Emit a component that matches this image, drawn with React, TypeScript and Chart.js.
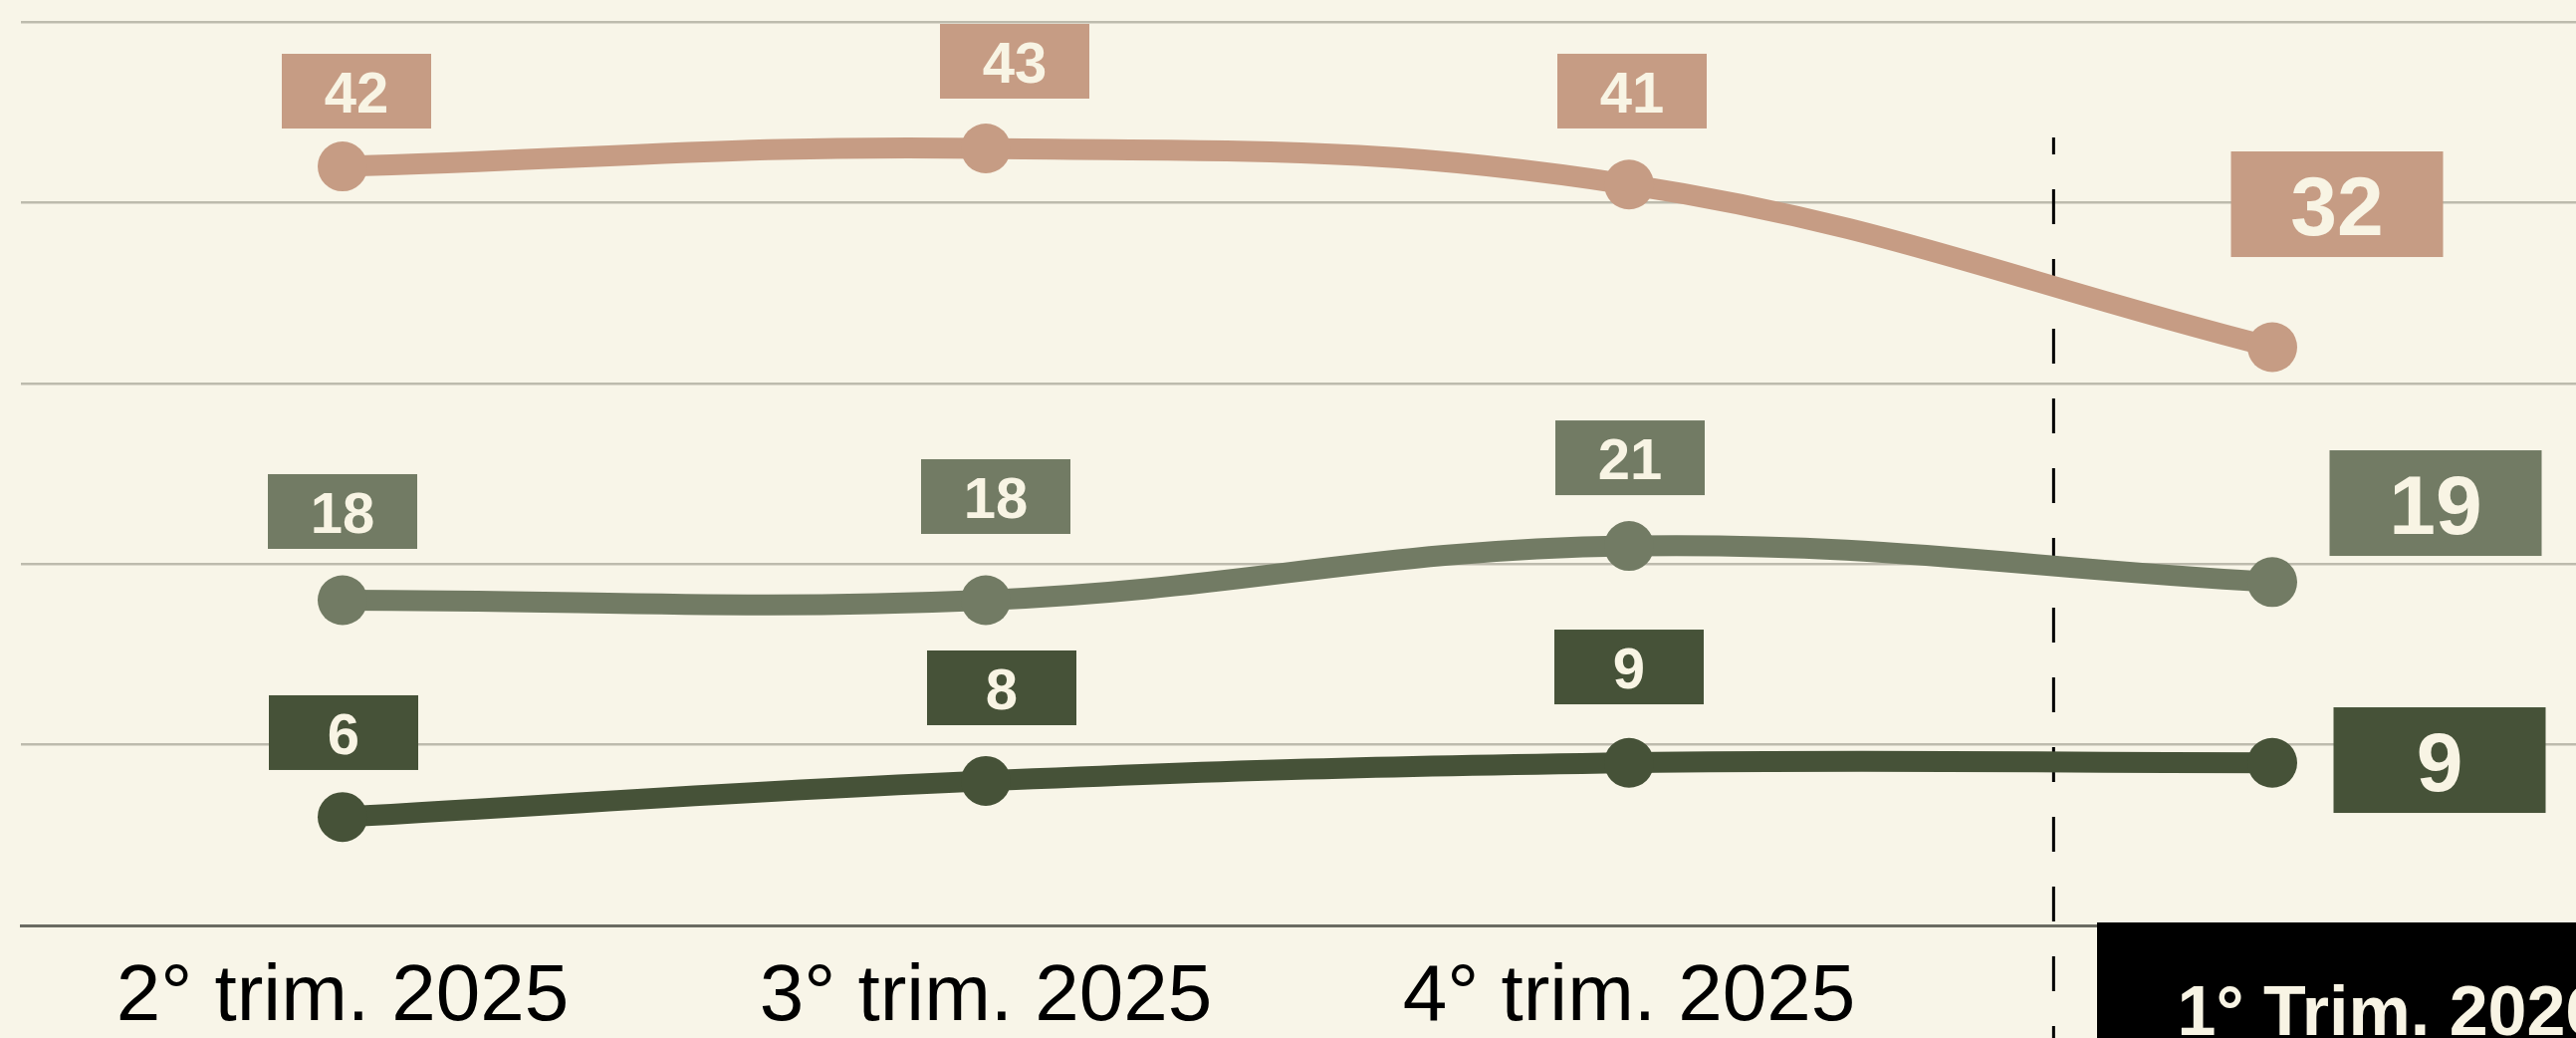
import React, { useEffect, useRef } from "react";
import { Chart, registerables } from "chart.js";

Chart.register(...registerables);

// ---- data ----
const categories = ["2° trim. 2025", "3° trim. 2025", "4° trim. 2025", "1° Trim. 2026"];
const seriesTop = [42, 43, 41, 32];
const seriesMid = [18, 18, 21, 19];
const seriesLow = [6, 8, 9, 9];
const yTicks = [0, 10, 20, 30, 40, 50];

// ---- styles ----
const BG = "#F8F5E8";
const CREAM = "#F8F4E4";
const COLORS = ["#C69C84", "#727B64", "#465238"];
const GRID = "#BDBBAD";
const AXIS = "#6B6B62";
const FONT = '"Liberation Sans", Arial, Helvetica, sans-serif';

// label box nudges (px, relative to each point) per series
const LABEL_NUDGES = [
  [[14, -75.6], [29, -87.5], [3, -93.8], [65, -143.5]],
  [[0, -89], [10, -104], [1, -88.5], [164, -79.3]],
  [[1, -84.7], [16, -93.4], [0, -96.2], [168, -2.7]],
];
const DIVIDER_AT = 2.66; // category index position of dashed separator
const LAST_TICK_SHIFT = 119;

const W = 2800;
const H = 1075;

const valueBoxes = {
  id: "valueBoxes",
  afterDatasetsDraw(chart: any) {
    const ctx = chart.ctx;
    ctx.save();
    chart.data.datasets.forEach((ds: any, di: number) => {
      const meta = chart.getDatasetMeta(di);
      meta.data.forEach((pt: any, i: number) => {
        const isLast = i === meta.data.length - 1;
        const [dx, dy] = LABEL_NUDGES[di][i];
        const w = isLast ? 213 : 150;
        const h = isLast ? 106 : 75;
        const cx = pt.x + dx;
        const cy = pt.y + dy;
        ctx.fillStyle = COLORS[di];
        ctx.fillRect(cx - w / 2, cy - h / 2, w, h);
        const fs = isLast ? 84 : 58;
        ctx.font = `bold ${fs}px ${FONT}`;
        ctx.fillStyle = CREAM;
        ctx.textAlign = "center";
        ctx.textBaseline = "alphabetic";
        ctx.fillText(String(ds.data[i]), cx, cy + fs * 0.365);
      });
    });
    ctx.restore();
  },
};

const divider = {
  id: "divider",
  beforeDatasetsDraw(chart: any) {
    const ctx = chart.ctx;
    const xs = chart.scales.x;
    const a = xs.getPixelForValue(Math.floor(DIVIDER_AT));
    const b = xs.getPixelForValue(Math.floor(DIVIDER_AT) + 1);
    const x = a + (b - a) * (DIVIDER_AT - Math.floor(DIVIDER_AT));
    ctx.save();
    ctx.strokeStyle = "#000";
    ctx.lineWidth = 3;
    ctx.setLineDash([35, 35]);
    ctx.lineDashOffset = 18;
    ctx.beginPath();
    ctx.moveTo(x, chart.chartArea.top + 116);
    ctx.lineTo(x, chart.height);
    ctx.stroke();
    ctx.restore();
  },
};

const lastTick = {
  id: "lastTick",
  afterDraw(chart: any) {
    const ctx = chart.ctx;
    const xs = chart.scales.x;
    const idx = categories.length - 1;
    const cx = xs.getPixelForTick(idx) + LAST_TICK_SHIFT;
    const top = chart.chartArea.bottom - 3;
    ctx.save();
    ctx.fillStyle = "#000";
    ctx.fillRect(cx - 295, top, 600, chart.height - top);
    ctx.font = `bold 70px ${FONT}`;
    ctx.fillStyle = CREAM;
    ctx.textAlign = "center";
    ctx.textBaseline = "alphabetic";
    ctx.fillText(categories[idx], cx, chart.chartArea.bottom + 110);
    ctx.restore();
  },
};

export default function App() {
  const ref = useRef<HTMLCanvasElement>(null);
  useEffect(() => {
    if (!ref.current) return;
    const mk = (data: number[], c: string, label: string) => ({
      label,
      data,
      borderColor: c,
      backgroundColor: c,
      pointBackgroundColor: c,
      pointBorderWidth: 0,
      pointRadius: 25,
      pointHoverRadius: 25,
      borderWidth: 21,
      tension: 0.4,
      fill: false,
    });
    const chart = new Chart(ref.current, {
      type: "line",
      data: {
        labels: categories,
        datasets: [
          mk(seriesTop, COLORS[0], "Serie 1"),
          mk(seriesMid, COLORS[1], "Serie 2"),
          mk(seriesLow, COLORS[2], "Serie 3"),
        ],
      },
      options: {
        animation: false,
        responsive: false,
        devicePixelRatio: 1,
        layout: { autoPadding: false, padding: { left: 21, right: W - 2605, top: 22, bottom: 0 } },
        plugins: { legend: { display: false }, tooltip: { enabled: false } },
        scales: {
          x: {
            offset: true,
            grid: { display: false, drawTicks: false },
            border: { display: true, color: AXIS, width: 3 },
            ticks: {
              autoSkip: false,
              maxRotation: 0,
              padding: 25,
              font: { family: FONT, size: 80 },
              color: (c: any) => (c.index === categories.length - 1 ? "rgba(0,0,0,0)" : "#000"),
            },
          },
          y: {
            min: yTicks[0],
            max: yTicks[yTicks.length - 1],
            afterBuildTicks: (s: any) => {
              s.ticks = yTicks.map((v) => ({ value: v }));
            },
            grid: { color: GRID, lineWidth: 2.5, drawTicks: false },
            border: { display: false },
            ticks: { display: false },
          },
        },
      },
      plugins: [divider, valueBoxes, lastTick],
    });
    return () => chart.destroy();
  }, []);

  return (
    <div
      style={{
        position: "fixed",
        left: 0,
        top: 0,
        width: 2587,
        height: 1042,
        overflow: "hidden",
        background: BG,
      }}
    >
      <canvas ref={ref} width={W} height={H} style={{ width: W, height: H, display: "block" }} />
    </div>
  );
}
